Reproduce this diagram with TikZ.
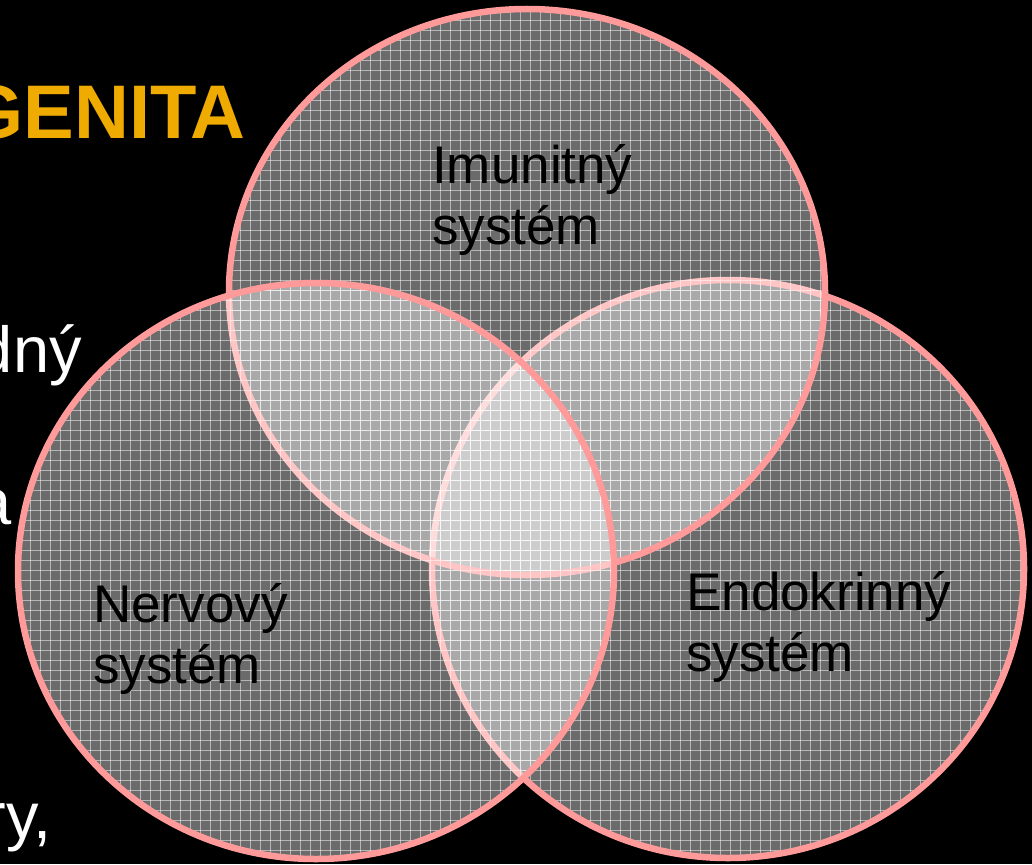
\documentclass[tikz,border=0pt]{standalone}
\usepackage{fontspec}
\setmainfont{Liberation Sans}
\definecolor{rimpink}{HTML}{FF9A9A}
\definecolor{titleorange}{HTML}{F0AB00}
\begin{document}
\begin{tikzpicture}[x=1pt,y=-1pt,
  rim/.style={draw=rimpink, line width=6.5pt},
  veil/.style={fill=white, fill opacity=0.42},
  gridl/.style={draw=white, draw opacity=0.5, line width=0.9pt},
  lab/.style={font=\fontsize{53}{61}\selectfont, text=black, align=left, inner sep=0pt, anchor=base west},
  side/.style={font=\fontsize{65}{75}\selectfont, text=white, inner sep=0pt, anchor=base east}]
\fill[black] (0,0) rectangle (1032,864);
\useasboundingbox (0,0) rectangle (1032,864);
% left-side text
\node[font=\fontsize{76}{86}\selectfont\bfseries, text=titleorange, inner sep=0pt, anchor=base east] (title) at (246,138) {GENITA};
\node[side] (t1) at (82,372) {dný};
\node[side] (t2) at (12,524) {a};
\node[side] (t3) at (52,838) {ry,};
% right circle (bottom layer)
\begin{scope}
  \clip (728,569) ellipse [x radius=296, y radius=289];
  \fill[veil] (0,0) rectangle (1032,864);
  \foreach \k in {0,10,...,1030} {
    \draw[gridl] (\k,0) -- (\k,864);
    \draw[gridl] (0,\k) -- (1032,\k);
  }
\end{scope}
\draw[rim] (728,569) ellipse [x radius=296, y radius=289];
% top circle
\begin{scope}
  \clip (527,292) ellipse [x radius=298, y radius=283];
  \fill[veil] (0,0) rectangle (1032,864);
  \foreach \k in {0,10,...,1030} {
    \draw[gridl] (\k,0) -- (\k,864);
    \draw[gridl] (0,\k) -- (1032,\k);
  }
\end{scope}
\draw[rim] (527,292) ellipse [x radius=298, y radius=283];
% left circle (top layer)
\begin{scope}
  \clip (316,571) ellipse [x radius=298, y radius=288];
  \fill[veil] (0,0) rectangle (1032,864);
  \foreach \k in {0,10,...,1030} {
    \draw[gridl] (\k,0) -- (\k,864);
    \draw[gridl] (0,\k) -- (1032,\k);
  }
\end{scope}
\draw[rim] (316,571) ellipse [x radius=298, y radius=288];
% labels (base anchor = last line baseline)
\node[lab] (imu) at (432,244) {Imunitný\\systém};
\node[lab] (ner) at (93,683) {Nervový\\systém};
\node[lab] (endo) at (686,671) {Endokrinný\\systém};
\end{tikzpicture}
\end{document}
